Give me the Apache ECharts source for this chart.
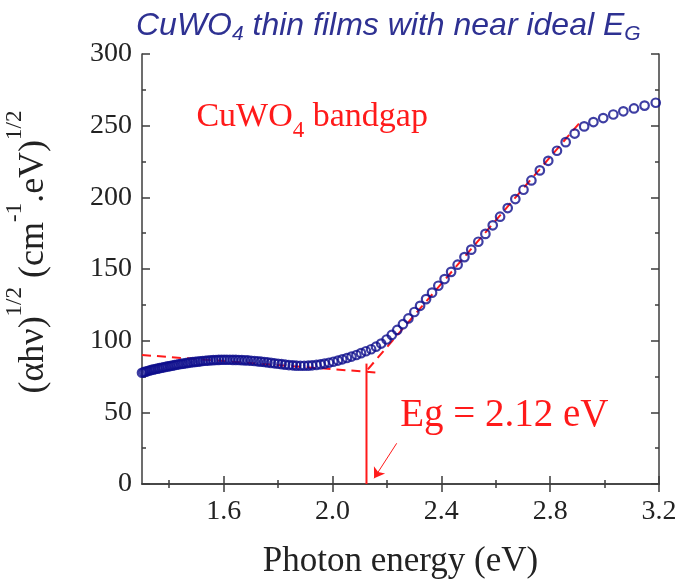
<!DOCTYPE html>
<html><head><meta charset="utf-8">
<script src="https://cdn.jsdelivr.net/npm/echarts@6/dist/echarts.min.js"></script>
<style>html,body{margin:0;padding:0;background:#fff}#c{width:680px;height:582px}</style>
</head><body><div id="c"></div>
<script>
// Photon energy (eV) of each measured point
const energy = [3.188, 3.147, 3.108, 3.069, 3.032, 2.995, 2.959, 2.925, 2.890, 2.857,
  2.825, 2.793, 2.762, 2.731, 2.702, 2.672, 2.644, 2.616, 2.589, 2.562,
  2.536, 2.510, 2.485, 2.460, 2.436, 2.412, 2.389, 2.366, 2.344, 2.322,
  2.301, 2.279, 2.259, 2.238, 2.218, 2.199, 2.179, 2.160, 2.142, 2.123,
  2.105, 2.088, 2.070, 2.053, 2.036, 2.020, 2.003, 1.987, 1.971, 1.956,
  1.941, 1.925, 1.911, 1.896, 1.882, 1.867, 1.854, 1.840, 1.826, 1.813,
  1.800, 1.787, 1.774, 1.761, 1.749, 1.737, 1.725, 1.713, 1.701, 1.689,
  1.678, 1.667, 1.656, 1.645, 1.634, 1.623, 1.612, 1.602, 1.592, 1.582,
  1.572, 1.562, 1.552, 1.542, 1.533, 1.523, 1.514, 1.505, 1.496, 1.487,
  1.478, 1.469, 1.461, 1.452, 1.444, 1.435, 1.427, 1.419, 1.411, 1.403,
  1.395, 1.387, 1.379, 1.372, 1.364, 1.357, 1.349, 1.342, 1.335, 1.328,
  1.321, 1.314, 1.307, 1.300];
// (alpha h nu)^(1/2) values
const sqrtAlphaHv = [266, 264, 262, 260, 257.8, 255.3, 252.5, 249.5, 244.5, 238.5,
  232.5, 225.5, 218.8, 211.8, 205.3, 198.8, 192.5, 186.5, 180.5, 174.5,
  169, 163.5, 158.3, 153, 148, 143, 138.3, 133.5, 129, 124.3,
  120, 115.5, 111.5, 107.5, 104, 100.8, 98, 95.8, 94, 92.6,
  91.3, 90, 88.9, 87.9, 87, 86.1, 85.3, 84.6, 84, 83.5,
  83.1, 82.8, 82.6, 82.5, 82.5, 82.6, 82.8, 83.0, 83.3, 83.6,
  83.9, 84.2, 84.5, 84.8, 85.1, 85.4, 85.6, 85.8, 86.0, 86.2,
  86.3, 86.4, 86.5, 86.6, 86.6, 86.7, 86.7, 86.7, 86.7, 86.6,
  86.5, 86.4, 86.3, 86.1, 86.0, 85.8, 85.6, 85.4, 85.2, 85.0,
  84.8, 84.5, 84.3, 84.0, 83.8, 83.5, 83.2, 82.9, 82.6, 82.3,
  82.0, 81.7, 81.4, 81.1, 80.8, 80.5, 80.2, 79.9, 79.6, 79.2,
  78.8, 78.4, 78.0, 77.6];

const xRange = [1.3, 3.2];
const yRange = [0, 300];
const xLabelTicks = [1.6, 2.0, 2.4, 2.8, 3.2];
const xMinorTicks = [1.4, 1.8, 2.2, 2.6, 3.0];
const yInterval = 50;

// Tauc-fit construction lines
const baselineFit = [[1.3, 90], [2.17, 77.7]];
const slopeFit = [[2.13, 80], [2.915, 253.5]];
const egMarker = [[2.125, 0], [2.125, 84]];
const egArrow = [[2.236, 28.4], [2.153, 4]];
const egLabelAt = [2.249, 47.5];
const bandgapLabelAt = [1.50, 256];

const serif = "'Liberation Serif','Times New Roman',serif";
const sans = "'Liberation Sans',Arial,sans-serif";
const axisColor = '#3c3c3c';
const textColor = '#222';
const red = '#ff1a1a';

const chart = echarts.init(document.getElementById('c'), null, {renderer: 'canvas'});

const points = energy.map((e, i) => [e, sqrtAlphaHv[i]]);

const rectGrid = {left: 142, right: 21, top: 54, bottom: 98, containLabel: false, outerBoundsMode: 'none'};

function majorX(pos, showLabel) {
  return {
    type: 'value', gridIndex: 0, position: pos, min: xRange[0], max: xRange[1],
    axisLine: {show: true, lineStyle: {color: axisColor, width: 1.5}},
    axisTick: {show: true, inside: true, length: 8, customValues: xLabelTicks, lineStyle: {color: axisColor, width: 1.5}},
    axisLabel: {show: showLabel, customValues: xLabelTicks, formatter: v => v.toFixed(1),
      fontFamily: serif, fontSize: 28, color: textColor, margin: 14},
    splitLine: {show: false}
  };
}
function minorX(pos) {
  return {
    type: 'value', gridIndex: 1, position: pos, min: xRange[0], max: xRange[1],
    axisLine: {show: false},
    axisTick: {show: true, inside: true, length: 4, customValues: xMinorTicks, lineStyle: {color: axisColor, width: 1.5}},
    axisLabel: {show: false}, splitLine: {show: false}
  };
}
function majorY(pos, showLabel) {
  return {
    type: 'value', gridIndex: 0, position: pos, min: yRange[0], max: yRange[1], interval: yInterval,
    axisLine: {show: true, lineStyle: {color: axisColor, width: 1.5}},
    axisTick: {show: true, inside: true, length: 8, lineStyle: {color: axisColor, width: 1.5}},
    minorTick: {show: true, splitNumber: 2, length: 4, lineStyle: {color: axisColor, width: 1.5}},
    axisLabel: {show: showLabel, fontFamily: serif, fontSize: 28, color: textColor, margin: 10},
    splitLine: {show: false}, minorSplitLine: {show: false}
  };
}

const xMain = majorX('bottom', true);
xMain.name = 'Photon energy (eV)';
xMain.nameLocation = 'middle';
xMain.nameGap = 60;
xMain.nameTextStyle = {fontFamily: serif, fontSize: 35, color: textColor};

const yMain = majorY('left', true);
yMain.name = '{m|(αhν)}{s|1/2}{m| (cm}{s|-1}{m|.eV)}{s|1/2}';
yMain.nameLocation = 'middle';
yMain.nameRotate = 90;
yMain.nameGap = 89;
yMain.nameTextStyle = {
  fontFamily: serif, fontSize: 36, color: textColor, padding: [0, 0, 0, 34],
  rich: {
    m: {fontFamily: serif, fontSize: 36, lineHeight: 38, color: textColor},
    s: {fontFamily: serif, fontSize: 23, lineHeight: 23, color: textColor, padding: [0, 0, 38, 0]}
  }
};

const dashed = {color: red, width: 2, type: [9, 6]};

chart.setOption({
  animation: false,
  backgroundColor: '#fff',
  title: {
    text: '{m|CuWO}{s|4}{m| thin films with near ideal E}{s|G}',
    left: 131, top: 4,
    textStyle: {
      fontWeight: 'normal',
      rich: {
        m: {fontFamily: sans, fontStyle: 'italic', fontWeight: 'normal', fontSize: 32, lineHeight: 34, color: '#2e3192'},
        s: {fontFamily: sans, fontStyle: 'italic', fontWeight: 'normal', fontSize: 21, lineHeight: 21, color: '#2e3192', padding: [16, 0, 0, 0]}
      }
    }
  },
  grid: [Object.assign({}, rectGrid), Object.assign({}, rectGrid)],
  xAxis: [xMain, majorX('top', false), minorX('bottom'), minorX('top')],
  yAxis: [yMain, majorY('right', false),
    {type: 'value', gridIndex: 1, min: yRange[0], max: yRange[1], show: false},
    {type: 'value', gridIndex: 1, min: yRange[0], max: yRange[1], show: false, position: 'right'}],
  series: [
    {type: 'line', xAxisIndex: 0, yAxisIndex: 0, data: baselineFit, showSymbol: false, lineStyle: dashed, z: 2, silent: true},
    {type: 'line', xAxisIndex: 0, yAxisIndex: 0, data: slopeFit, showSymbol: false, lineStyle: dashed, z: 2, silent: true},
    {type: 'line', xAxisIndex: 0, yAxisIndex: 0, data: egMarker, showSymbol: false,
      lineStyle: {color: red, width: 2}, z: 2, silent: true,
      markLine: {
        silent: true, symbol: ['none', 'arrow'], symbolSize: 10,
        lineStyle: {color: red, width: 1, type: 'solid'}, label: {show: false},
        data: [[{coord: egArrow[0]}, {coord: egArrow[1]}]]
      },
      markPoint: {
        silent: true, symbol: 'circle', symbolSize: 0,
        data: [
          {coord: egLabelAt, label: {show: true, position: 'right', distance: 0,
            formatter: 'Eg = 2.12 eV', fontFamily: serif, fontSize: 39, color: red}},
          {coord: bandgapLabelAt, label: {show: true, position: 'right', distance: 0,
            formatter: '{m|CuWO}{s|4}{m| bandgap}',
            rich: {
              m: {fontFamily: serif, fontSize: 34, lineHeight: 36, color: red},
              s: {fontFamily: serif, fontSize: 23, lineHeight: 23, color: red, padding: [27, 0, 0, 0]}
            }}}
        ]
      }
    },
    {type: 'scatter', xAxisIndex: 0, yAxisIndex: 0, data: points, symbol: 'circle', symbolSize: 8.5,
      itemStyle: {color: 'rgba(0,0,0,0)', borderColor: '#0e0e8c', borderWidth: 2.2}, z: 3, clip: true}
  ]
});
</script>
</body></html>
